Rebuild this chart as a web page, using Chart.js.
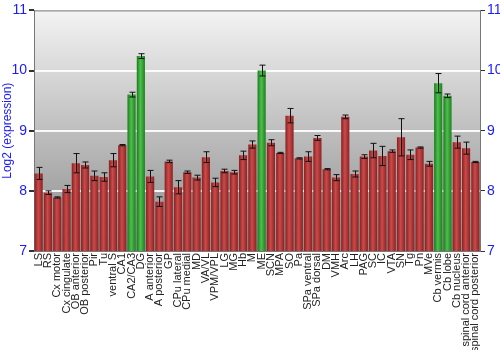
<!DOCTYPE html>
<html>
<head>
<meta charset="utf-8">
<script src="https://cdn.jsdelivr.net/npm/chart.js@4"></script>
<style>
  html, body { margin: 0; padding: 0; background: #fff; }
  #wrap { width: 500px; height: 350px; }
</style>
</head>
<body>
<div id="wrap"><canvas id="exprChart" width="500" height="350"></canvas></div>
<script>
const regions = ['LS', 'RS', 'Cx motor', 'Cx cingulate', 'OB anterior', 'OB posterior', 'Pir', 'Tu',
    'ventral S', 'CA1', 'CA2/CA3', 'DG', 'A anterior', 'A posterior', 'GP', 'CPu lateral', 'CPu medial',
    'MD', 'VA/VL', 'VPM/VPL', 'LG', 'MG', 'Hb', 'M', 'ME', 'SCN', 'MPA', 'SO', 'Pa', 'SPa ventral',
    'SPa dorsal', 'DM', 'VMH', 'Arc', 'LH', 'PAG', 'SC', 'IC', 'VTA', 'SN', 'Tg', 'Pn', 'MVe',
    'Cb vermis', 'Cb lobe', 'Cb nucleus', 'spinal cord anterior', 'spinal cord posterior'];

const expression = [8.29, 7.97, 7.89, 8.03, 8.46, 8.43, 8.25, 8.23,
    8.51, 8.76, 9.60, 10.24, 8.24, 7.82, 8.49, 8.06, 8.31,
    8.22, 8.56, 8.14, 8.33, 8.31, 8.59, 8.77, 10.00, 8.80, 8.63, 9.25, 8.54, 8.57,
    8.88, 8.36, 8.22, 9.23, 8.28, 8.57, 8.67, 8.58, 8.66, 8.89, 8.60, 8.72, 8.45,
    9.79, 9.58, 8.81, 8.71, 8.48];

const errors = [0.10, 0.03, 0.01, 0.06, 0.16, 0.05, 0.08, 0.07,
    0.11, 0.01, 0.04, 0.04, 0.10, 0.08, 0.02, 0.11, 0.02,
    0.04, 0.09, 0.07, 0.03, 0.03, 0.07, 0.06, 0.09, 0.05, 0.01, 0.12, 0.01, 0.08,
    0.04, 0.01, 0.05, 0.03, 0.05, 0.03, 0.12, 0.16, 0.02, 0.31, 0.08, 0.01, 0.04,
    0.16, 0.03, 0.10, 0.10, 0.01];

const highlighted = ['CA2/CA3', 'DG', 'ME', 'Cb vermis', 'Cb lobe'];

const yTicks = [7, 8, 9, 10, 11];

const BAR_FRACTION = 0.88;

function barGradient(context) {
    const chart = context.chart;
    const xScale = chart.scales.x;
    const green = highlighted.includes(regions[context.dataIndex]);
    const solid = green ? '#33a033' : '#b03232';
    if (!chart.chartArea || !xScale || xScale.width === 0) {
        return solid;
    }
    const center = xScale.getPixelForValue(context.dataIndex);
    const half = xScale.width / regions.length * BAR_FRACTION / 2;
    const g = chart.ctx.createLinearGradient(center - half, 0, center + half, 0);
    if (green) {
        g.addColorStop(0, '#1c7a1c');
        g.addColorStop(0.45, '#4cc04c');
        g.addColorStop(1, '#1f7f1f');
    } else {
        g.addColorStop(0, '#862020');
        g.addColorStop(0.45, '#cc4a4a');
        g.addColorStop(1, '#8a2222');
    }
    return g;
}

// gradient fill behind the plot
const plotBackground = {
    id: 'plotBackground',
    beforeDraw(chart) {
        const { ctx, chartArea } = chart;
        if (!chartArea) return;
        const g = ctx.createLinearGradient(0, chartArea.top, 0, chartArea.bottom);
        g.addColorStop(0, '#f3f3f3');
        g.addColorStop(1, '#8a8a8a');
        ctx.save();
        ctx.fillStyle = g;
        ctx.fillRect(chartArea.left, chartArea.top, chartArea.right - chartArea.left, chartArea.bottom - chartArea.top);
        ctx.strokeStyle = '#777';
        ctx.lineWidth = 1;
        ctx.beginPath();
        ctx.moveTo(chartArea.left, chartArea.top + 0.5);
        ctx.lineTo(chartArea.right, chartArea.top + 0.5);
        ctx.stroke();
        ctx.restore();
    }
};

// standard error whiskers
const errorBars = {
    id: 'errorBars',
    afterDatasetsDraw(chart) {
        const ctx = chart.ctx;
        const yScale = chart.scales.y;
        const meta = chart.getDatasetMeta(0);
        ctx.save();
        ctx.strokeStyle = '#111';
        ctx.lineWidth = 1;
        meta.data.forEach((bar, i) => {
            const x = Math.round(bar.x) + 0.5;
            const top = yScale.getPixelForValue(expression[i] + errors[i]);
            const bottom = yScale.getPixelForValue(expression[i] - errors[i]);
            ctx.beginPath();
            ctx.moveTo(x, top);
            ctx.lineTo(x, bottom);
            ctx.moveTo(x - 3, top);
            ctx.lineTo(x + 3, top);
            ctx.moveTo(x - 3, bottom);
            ctx.lineTo(x + 3, bottom);
            ctx.stroke();
        });
        ctx.restore();
    }
};

const gridColor = (ctx) => {
    const v = ctx.tick && ctx.tick.value;
    return (v > 7 && v < 11) ? 'rgba(255,255,255,0.9)' : 'rgba(0,0,0,0)';
};

new Chart(document.getElementById('exprChart').getContext('2d'), {
    type: 'bar',
    data: {
        labels: regions,
        datasets: [{
            data: expression,
            backgroundColor: barGradient,
            borderWidth: 0,
            barPercentage: BAR_FRACTION,
            categoryPercentage: 1.0
        }]
    },
    options: {
        responsive: false,
        animation: false,
        layout: { padding: { top: 10, right: 0, left: 0, bottom: 0 } },
        plugins: {
            legend: { display: false },
            tooltip: { enabled: false }
        },
        scales: {
            x: {
                grid: { display: false, drawTicks: false },
                border: { display: true, color: '#777' },
                ticks: {
                    autoSkip: false,
                    minRotation: 90,
                    maxRotation: 90,
                    padding: 2,
                    color: '#222',
                    font: { family: 'Liberation Sans, Arial, sans-serif', size: 11 }
                },
                afterFit(scale) { scale.height = 99; }
            },
            y: {
                min: 7,
                max: 11,
                position: 'left',
                afterBuildTicks(scale) { scale.ticks = yTicks.map(v => ({ value: v })); },
                grid: { color: gridColor, lineWidth: 2, tickColor: '#333', tickLength: 5 },
                border: { color: '#777' },
                ticks: {
                    color: '#1a1aff',
                    padding: 2,
                    font: { family: 'Liberation Sans, Arial, sans-serif', size: 14 }
                },
                title: {
                    display: true,
                    text: 'Log2 (expression)',
                    color: '#1a1aff',
                    padding: 0,
                    font: { family: 'Liberation Sans, Arial, sans-serif', size: 12 }
                },
                afterFit(scale) { scale.width = 34; }
            },
            y2: {
                min: 7,
                max: 11,
                position: 'right',
                afterBuildTicks(scale) { scale.ticks = yTicks.map(v => ({ value: v })); },
                grid: { drawOnChartArea: false, tickColor: '#333', tickLength: 5 },
                border: { color: '#777' },
                ticks: {
                    color: '#1a1aff',
                    padding: 2,
                    font: { family: 'Liberation Sans, Arial, sans-serif', size: 14 }
                },
                afterFit(scale) { scale.width = 20; }
            }
        }
    },
    plugins: [plotBackground, errorBars]
});
</script>
</body>
</html>
